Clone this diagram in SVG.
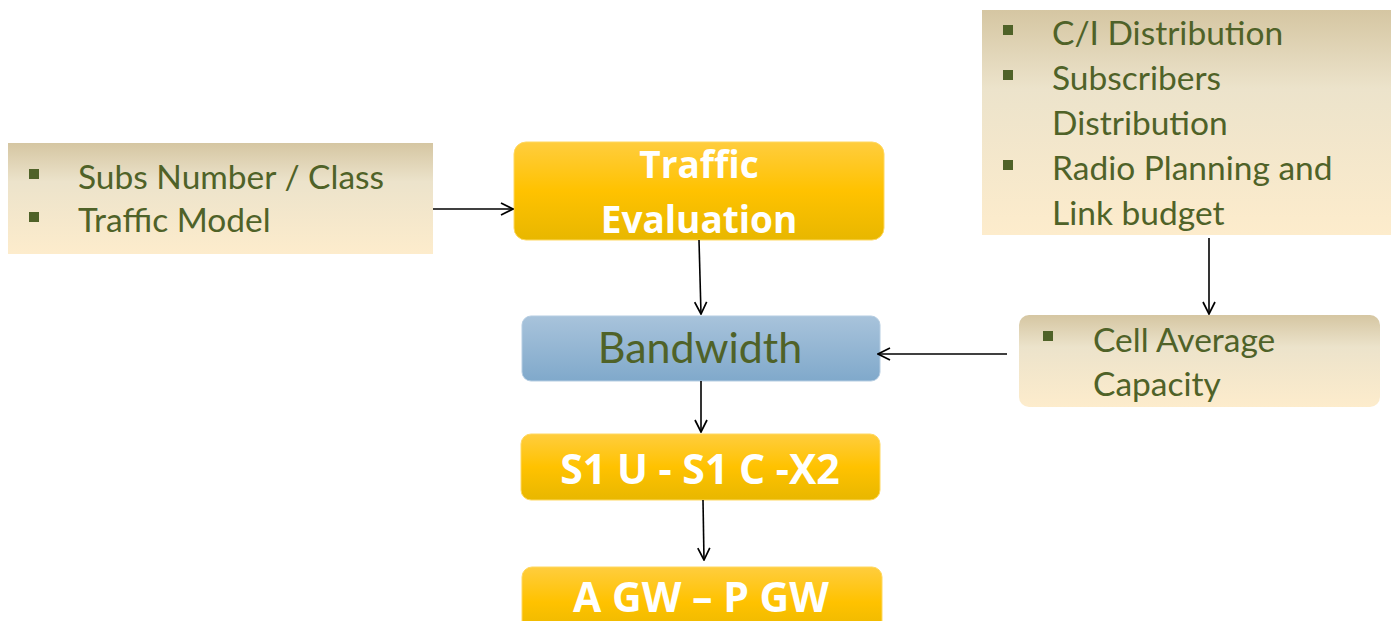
<svg xmlns="http://www.w3.org/2000/svg" width="1391" height="621" viewBox="0 0 1391 621">
<defs>
<linearGradient id="tan" x1="0" y1="0" x2="0" y2="1">
<stop offset="0" stop-color="#d5c6a2"/><stop offset="0.35" stop-color="#ece3cb"/><stop offset="1" stop-color="#fdeccc"/>
</linearGradient>
<linearGradient id="yel" x1="0" y1="0" x2="0" y2="1">
<stop offset="0" stop-color="#ffcd3e"/><stop offset="0.5" stop-color="#ffc200"/><stop offset="1" stop-color="#e8b700"/>
</linearGradient>
<linearGradient id="blu" x1="0" y1="0" x2="0" y2="1">
<stop offset="0" stop-color="#a8c3db"/><stop offset="1" stop-color="#80a9cb"/>
</linearGradient>
<marker id="arr" viewBox="0 0 14 14" refX="13" refY="7" markerWidth="14" markerHeight="14" markerUnits="userSpaceOnUse" orient="auto">
<path d="M1,1 L13,7 L1,13" fill="none" stroke="#000" stroke-width="1.7"/>
</marker>
</defs>
<style>
.list{font-family:Lato,"Open Sans","Liberation Sans",sans-serif;font-size:33.5px;fill:#4f6228}
.bul{fill:#4f6228}
.yb{fill:url(#yel);stroke:#ffd860;stroke-width:1}
.wt{font-family:"Open Sans","Liberation Sans",sans-serif;font-weight:bold;font-size:37px;fill:#fff;text-anchor:middle}
.big{font-size:41px}
.conn{stroke:#000;stroke-width:1.6;fill:none;marker-end:url(#arr)}
</style>
<g id="inputs-left">
<rect x="8" y="143" width="425" height="111" fill="url(#tan)"/>
<rect class="bul" x="29" y="169" width="10" height="10"/>
<rect class="bul" x="29" y="212" width="10" height="10"/>
<text class="list" x="78" y="189">Subs Number / Class</text>
<text class="list" x="78" y="232">Traffic Model</text>
</g>
<g id="traffic-evaluation">
<rect class="yb" x="514" y="142" width="370" height="98" rx="12"/>
<text class="wt" x="699" y="178">Traffic</text>
<text class="wt" x="699" y="233">Evaluation</text>
</g>
<g id="bandwidth">
<rect x="522" y="316" width="358" height="65" rx="9" fill="url(#blu)" stroke="#b5cde2" stroke-width="1"/>
<text x="700" y="363" text-anchor="middle" font-family="Lato,'Open Sans','Liberation Sans',sans-serif" font-size="43" fill="#4f6228">Bandwidth</text>
</g>
<g id="s1">
<rect class="yb" x="521" y="434" width="359" height="66" rx="10"/>
<text class="wt big" x="700" y="484">S1 U - S1 C -X2</text>
</g>
<g id="gw">
<rect class="yb" x="522" y="567" width="360" height="70" rx="10"/>
<text class="wt big" x="701" y="612">A GW – P GW</text>
</g>
<g id="inputs-right">
<rect x="982" y="10" width="409" height="225" fill="url(#tan)"/>
<rect class="bul" x="1003" y="25" width="10" height="10"/>
<rect class="bul" x="1003" y="70" width="10" height="10"/>
<rect class="bul" x="1003" y="160" width="10" height="10"/>
<text class="list" x="1052" y="45">C/I Distribution</text>
<text class="list" x="1052" y="90">Subscribers</text>
<text class="list" x="1052" y="135">Distribution</text>
<text class="list" x="1052" y="180">Radio Planning and</text>
<text class="list" x="1052" y="225">Link budget</text>
</g>
<g id="cell-capacity">
<rect x="1019" y="315" width="361" height="92" rx="10" fill="url(#tan)"/>
<rect class="bul" x="1043" y="331" width="10" height="10"/>
<text class="list" x="1093" y="352">Cell Average</text>
<text class="list" x="1093" y="396">Capacity</text>
</g>
<g id="connectors">
<line class="conn" x1="433" y1="209" x2="513" y2="209"/>
<line class="conn" x1="699" y1="240" x2="701" y2="314"/>
<line class="conn" x1="1209" y1="238" x2="1209" y2="314"/>
<line class="conn" x1="1007" y1="354" x2="878" y2="354"/>
<line class="conn" x1="701" y1="381" x2="701" y2="432"/>
<line class="conn" x1="703" y1="500" x2="704" y2="560"/>
</g>
</svg>
